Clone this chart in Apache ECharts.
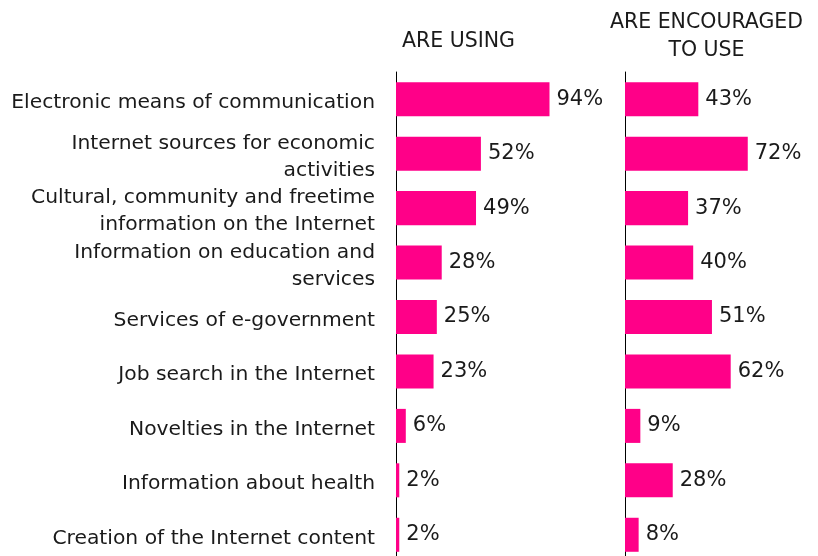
<!DOCTYPE html>
<html>
<head>
<meta charset="utf-8">
<script src="https://cdn.jsdelivr.net/npm/echarts@6/dist/echarts.min.js"></script>
<style>html,body{margin:0;padding:0;background:#fff}#c{width:818px;height:556px}</style>
</head>
<body>
<div id="c"></div>
<script>
var categories = [
  "Electronic means of communication",
  "Internet sources for economic\nactivities",
  "Cultural, community and freetime\ninformation on the Internet",
  "Information on education and\nservices",
  "Services of e-government",
  "Job search in the Internet",
  "Novelties in the Internet",
  "Information about health",
  "Creation of the Internet content"
];
var areUsing = [94, 52, 49, 28, 25, 23, 6, 2, 2];
var areEncouraged = [43, 72, 37, 40, 51, 62, 9, 28, 8];
var headerUsing = "ARE USING";
var headerEncouraged = "ARE ENCOURAGED\nTO USE";

var FONT = "DejaVu Sans";
var TXT = "#1a1a1a";
var BAR = "#ff0088";

var chart = echarts.init(document.getElementById('c'), null, {renderer: 'canvas'});
function yAx(idx, showLabels) {
  return {
    type: 'category', gridIndex: idx, data: categories, inverse: true,
    axisLine: {show: true, lineStyle: {color: '#000', width: 1}},
    axisTick: {show: false},
    axisLabel: {
      show: showLabels, margin: 21, align: 'right',
      formatter: function (v) { return '{s| }\n{a|' + v.split('\n').join('}\n{a|') + '}'; },
      rich: {
        s: {fontSize: 2, lineHeight: 7, fontFamily: FONT},
        a: {fontFamily: FONT, fontSize: 20.3, color: TXT, lineHeight: 27, align: 'right'}
      }
    }
  };
}
function xAx(idx) {
  return {type: 'value', gridIndex: idx, min: 0, max: 100, show: false, splitLine: {show: false}};
}
function ser(idx, data) {
  return {
    type: 'bar', xAxisIndex: idx, yAxisIndex: idx, data: data,
    barCategoryGap: '37.5%',
    itemStyle: {color: BAR},
    label: {show: true, position: 'right', distance: 7, formatter: '{c}%', fontFamily: FONT, fontSize: 21, color: TXT},
    silent: true, animation: false
  };
}
chart.setOption({
  animation: false,
  title: [
    {text: headerUsing, left: 453.5, top: 26, textAlign: 'center', textStyle: {fontFamily: FONT, fontSize: 20.5, fontWeight: 'normal', color: TXT}},
    {text: headerEncouraged, left: 701.5, top: 4, textAlign: 'center', textStyle: {fontFamily: FONT, fontSize: 20.5, fontWeight: 'normal', color: TXT, lineHeight: 28}}
  ],
  grid: [
    {left: 396, top: 72, width: 163.3, height: 490, outerBoundsMode: 'none', containLabel: false},
    {left: 625, top: 72, width: 170.5, height: 490, outerBoundsMode: 'none', containLabel: false}
  ],
  xAxis: [xAx(0), xAx(1)],
  yAxis: [yAx(0, true), yAx(1, false)],
  series: [ser(0, areUsing), ser(1, areEncouraged)]
});
</script>
</body>
</html>
